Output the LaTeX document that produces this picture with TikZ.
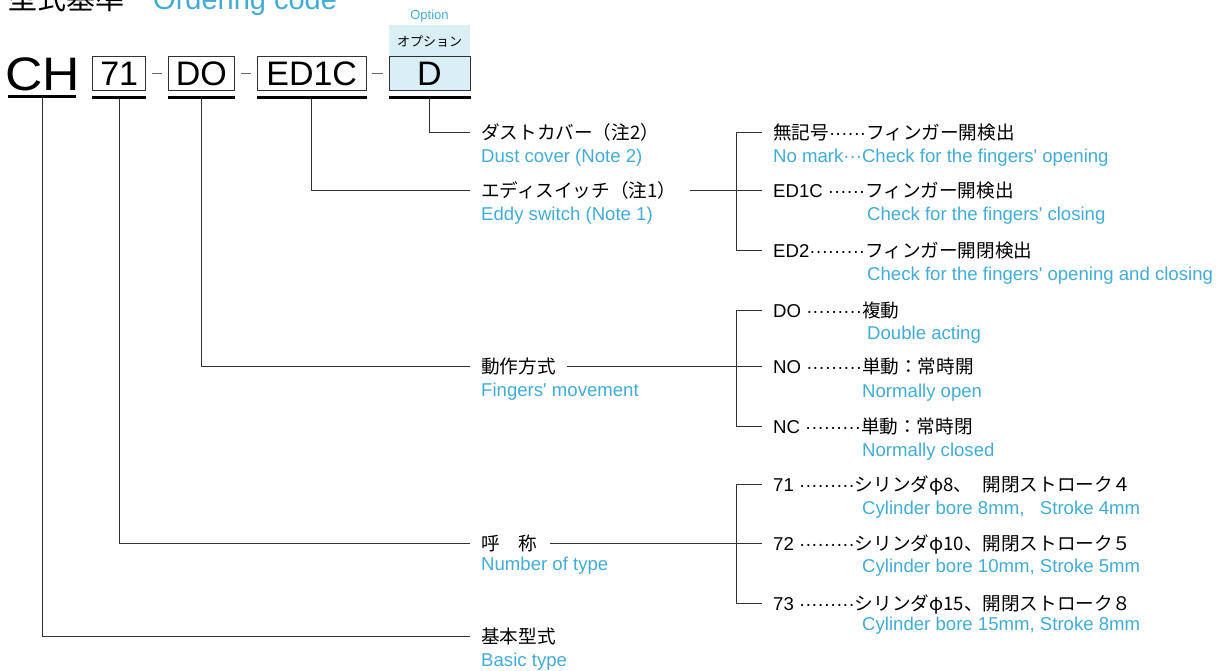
\documentclass[tikz,border=0pt]{standalone}
\usepackage{fontspec}
\setmainfont{Liberation Sans}
\newfontfamily\jpf{Noto Sans CJK JP}
\newcommand\jp[1]{{\jpf #1}}
\newcommand\tdots{\makebox[1em]{\hfil·\hfil\hfil·\hfil\hfil·\hfil}}
\definecolor{cblue}{RGB}{66,172,214}
\definecolor{cfill}{RGB}{217,238,245}
\definecolor{cline}{RGB}{50,50,50}
\begin{document}
\begin{tikzpicture}[x=1pt,y=-1pt,
  lbl/.style={anchor=west, inner sep=0pt, font=\fontsize{18.6}{22}\selectfont, text height=16pt, text depth=2pt},
  en/.style={anchor=base west, inner sep=0pt, font=\fontsize{18.6}{22}\selectfont, text=cblue},
  codebox/.style={draw=cline, line width=1pt, minimum height=34pt, inner sep=0pt, font=\fontsize{34}{40}\selectfont},
  uline/.style={line width=3pt, draw=black},
  conn/.style={draw=cline, line width=1pt},
  sepline/.style={draw=black!60, line width=1pt}
]
\useasboundingbox (0,0) rectangle (1216,671);

% title
\node[anchor=base west, inner sep=0pt, font=\jpf\fontsize{29}{32}\selectfont] (title) at (8,9.5) {型式基準};
\node[anchor=base west, inner sep=0pt, font=\fontsize{29}{32}\selectfont, text=cblue] (titleEN) at (153,9.5) {Ordering code};

% option header
\node[inner sep=0pt, font=\fontsize{13}{15}\selectfont, text=cblue] (optEN) at (429.5,16) {Option};
\node[fill=cfill, minimum width=81pt, minimum height=32pt, inner sep=0pt, font=\jpf\fontsize{13}{15}\selectfont] (opt) at (429.5,41) {オプション};

% code
\node[anchor=base, inner sep=0pt, font=\fontsize{47}{50}\selectfont] (ch) at (42.7,90.7) {\scalebox{1.1}[1]{CH}};
\node[codebox, minimum width=53pt] (b71) at (119.2,73.7) {71};
\node[codebox, minimum width=66pt] (bDO) at (201.3,73.7) {DO};
\node[codebox, minimum width=108.7pt] (bED) at (311.7,73.7) {ED1C};
\node[codebox, minimum width=81pt, fill=cfill] (bD) at (429.5,73.7) {D};

\draw[sepline] ([xshift=6pt]b71.east) -- ([xshift=-6pt]bDO.west);
\draw[sepline] ([xshift=6pt]bDO.east) -- ([xshift=-6pt]bED.west);
\draw[sepline] ([xshift=5pt]bED.east) -- ([xshift=-6pt]bD.west);

\draw[uline] (8.3,96.7) -- (76,96.7);
\foreach \b in {b71,bDO,bED,bD}
  \draw[uline] ([yshift=-6pt]\b.south west) -- ([yshift=-6pt]\b.south east);

% left labels
\node[lbl] (dust) at (481,133) {\jp{ダストカバー（注2）}};
\node[en] (dustEN) at (481,163) {Dust cover (Note 2)};
\node[lbl] (eddy) at (481,191) {\jp{エディスイッチ（注1）}};
\node[en] (eddyEN) at (481,221) {Eddy switch (Note 1)};
\node[lbl] (move) at (481,366) {\jp{動作方式}};
\node[en] (moveEN) at (481,396) {Fingers\textquotesingle{} movement};
\node[lbl] (hosho) at (481,543) {\jp{呼　称}};
\node[en] (hoshoEN) at (481,570) {Number of type};
\node[lbl] (basic) at (481,636) {\jp{基本型式}};
\node[en] (basicEN) at (481,666) {Basic type};

% connectors from code
\draw[conn] ([yshift=-7.5pt]bD.south) |- ([xshift=-11pt]dust.west);
\draw[conn] ([yshift=-7.5pt]bED.south) |- ([xshift=-11pt]eddy.west);
\draw[conn] ([yshift=-7.5pt]bDO.south) |- ([xshift=-11pt]move.west);
\draw[conn] ([yshift=-7.5pt]b71.south) |- ([xshift=-11pt]hosho.west);
\draw[conn] (42.7,98.2) |- ([xshift=-11pt]basic.west);

% eddy switch group
\node[lbl] (r1) at (773,133) {\jp{無記号}\tdots\tdots\jp{フィンガー開検出}};
\node[en] (r1EN) at (773,163) {No mark\tdots Check for the fingers\textquotesingle{} opening};
\node[lbl] (r2) at (773,191) {ED1C \tdots\tdots\jp{フィンガー開検出}};
\node[en] (r2EN) at (867,221) {Check for the fingers\textquotesingle{} closing};
\node[lbl] (r3) at (773,251) {ED2\tdots\tdots\tdots\jp{フィンガー開閉検出}};
\node[en] (r3EN) at (867,280) {Check for the fingers\textquotesingle{} opening and closing};
\draw[conn] ([xshift=14pt]eddy.east) -- ([xshift=-11pt]r2.west);
\draw[conn] ([xshift=-11pt]r1.west) -- ++(-26,0) |- ([xshift=-11pt]r3.west);

% movement group
\node[lbl] (d1) at (773,310) {DO \tdots\tdots\tdots\jp{複動}};
\node[en] (d1EN) at (867,339) {Double acting};
\node[lbl] (d2) at (773,366) {NO \tdots\tdots\tdots\jp{単動：常時開}};
\node[en] (d2EN) at (862,397) {Normally open};
\node[lbl] (d3) at (773,426) {NC \tdots\tdots\tdots\jp{単動：常時閉}};
\node[en] (d3EN) at (862,456) {Normally closed};
\draw[conn] ([xshift=11pt]move.east) -- ([xshift=-11pt]d2.west);
\draw[conn] ([xshift=-11pt]d1.west) -- ++(-26,0) |- ([xshift=-11pt]d3.west);

% type group
\node[lbl] (n1) at (773,484) {71 \tdots\tdots\tdots\jp{シリンダφ8、\phantom{0}開閉ストローク４}};
\node[en] (n1EN) at (862,514) {Cylinder bore 8mm,\phantom{0} Stroke 4mm};
\node[lbl] (n2) at (773,543) {72 \tdots\tdots\tdots\jp{シリンダφ10、開閉ストローク５}};
\node[en] (n2EN) at (862,572) {Cylinder bore 10mm, Stroke 5mm};
\node[lbl] (n3) at (773,603) {73 \tdots\tdots\tdots\jp{シリンダφ15、開閉ストローク８}};
\node[en] (n3EN) at (862,630) {Cylinder bore 15mm, Stroke 8mm};
\draw[conn] ([xshift=13pt]hosho.east) -- ([xshift=-11pt]n2.west);
\draw[conn] ([xshift=-11pt]n1.west) -- ++(-26,0) |- ([xshift=-11pt]n3.west);
\end{tikzpicture}
\end{document}
